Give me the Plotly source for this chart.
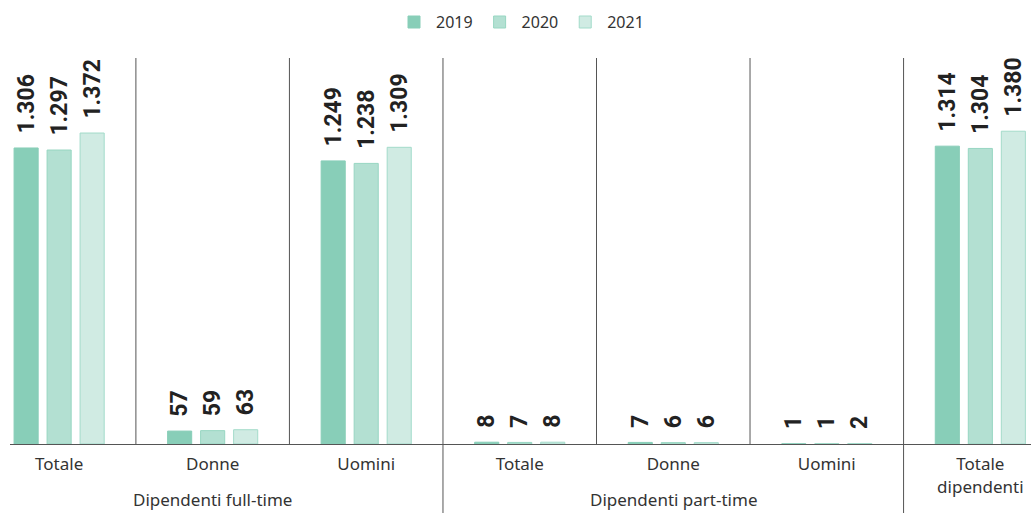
import plotly.graph_objects as go

# Workforce headcount by contract type and gender, 2019-2021
categories = ["Totale", "Donne", "Uomini", "Totale", "Donne", "Uomini", "Totale<br>dipendenti"]
group_of_category = [0, 0, 0, 1, 1, 1, 2]
group_names = ["Dipendenti full-time", "Dipendenti part-time", ""]
years = ["2019", "2020", "2021"]
v2019 = [1306, 57, 1249, 8, 7, 1, 1314]
v2020 = [1297, 59, 1238, 7, 6, 1, 1304]
v2021 = [1372, 63, 1309, 8, 6, 2, 1380]

fills = ["#88CEB8", "#B3E0D2", "#D0EBE3"]
edges = ["#88CEB8", "#97D6C2", "#A3DBCA"]

positions = list(range(len(categories)))

fig = go.Figure()
for year, vals, fc, lc in zip(years, [v2019, v2020, v2021], fills, edges):
    fig.add_trace(go.Bar(
        x=positions, y=vals, name=year,
        marker=dict(color=fc, line=dict(color=lc, width=1)),
        texttemplate="\u00a0\u00a0%{y:,d}",
        textposition="outside", textangle=-90, constraintext="none",
        cliponaxis=False,
        textfont=dict(family="Roboto", size=23, color="#222222", weight="bold"),
        hoverinfo="skip",
    ))

# Vertical separators between categories; group boundaries run to the bottom
shapes = []
for k in range(len(categories) - 1):
    boundary = group_of_category[k] != group_of_category[k + 1]
    shapes.append(dict(
        type="line", xref="x", yref="paper",
        x0=k + 0.5, x1=k + 0.5, y0=-0.179 if boundary else 0, y1=1,
        line=dict(color="#555555", width=1),
    ))

# Group captions centred under each group's categories
annotations = []
for g, name in enumerate(group_names):
    if not name:
        continue
    members = [p for p, gg in zip(positions, group_of_category) if gg == g]
    annotations.append(dict(
        text=name, x=sum(members) / len(members), xref="x",
        y=-0.143, yref="paper", yanchor="middle", showarrow=False,
        font=dict(family="Noto Sans", size=17, color="#333333"),
    ))

fig.update_layout(
    width=1031, height=513,
    margin=dict(l=10, r=0, t=58, b=69),
    paper_bgcolor="white", plot_bgcolor="white",
    separators=",.",
    barmode="group", bargap=0.355, bargroupgap=0.27,
    font=dict(family="Noto Sans", size=16, color="#333333"),
    legend=dict(
        orientation="h", x=0.5, xanchor="center", y=1.093, yanchor="middle",
        font=dict(family="Noto Sans", size=16, color="#333333"),
        itemwidth=34, traceorder="normal",
    ),
    xaxis=dict(
        range=[-0.32, 6.33], tickvals=positions, ticktext=categories,
        showline=True, linecolor="#555555", linewidth=1,
        showgrid=False, zeroline=False, ticks="",
        ticklabelstandoff=5,
        tickfont=dict(family="Noto Sans", size=17, color="#333333"),
        fixedrange=True,
    ),
    yaxis=dict(
        range=[0, 1703], visible=False, showgrid=False, zeroline=False,
        fixedrange=True,
    ),
    shapes=shapes,
    annotations=annotations,
)

fig.write_html("out.html")
